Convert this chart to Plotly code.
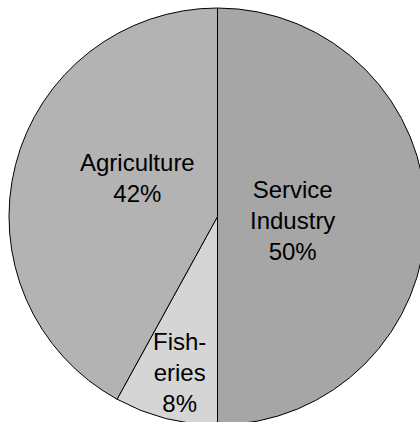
import plotly.graph_objects as go

# Sector shares of employment
labels = ["Service Industry", "Fisheries", "Agriculture"]
shares = [50, 8, 42]
display_names = ["Service<br>Industry", "Fish-<br>eries", "Agriculture"]
slice_colors = ["#a6a6a6", "#d5d5d5", "#b3b3b3"]

# Label anchors as offsets from the pie centre, in units of the radius
# (x to the right, y downward)
label_offsets = [(0.362, 0.017), (-0.18, 0.746), (-0.386, -0.187)]

fig = go.Figure(
    go.Pie(
        labels=labels,
        values=shares,
        sort=False,
        direction="clockwise",
        rotation=0,
        marker=dict(colors=slice_colors, line=dict(color="#000000", width=1)),
        textinfo="none",
        hoverinfo="label+percent",
        showlegend=False,
    )
)

total = sum(shares)
for name, val, (fx, fy) in zip(display_names, shares, label_offsets):
    pct = round(100 * val / total)
    fig.add_annotation(
        x=0.5 + 0.5 * fx,
        y=0.5 - 0.5 * fy,
        xref="paper",
        yref="paper",
        text=f"{name}<br>{pct}%",
        showarrow=False,
        align="center",
        xanchor="center",
        yanchor="middle",
        font=dict(family="Arial, Liberation Sans, sans-serif", size=24, color="#000000"),
    )

fig.update_layout(
    width=430,
    height=430,
    margin=dict(l=9, r=4, t=8, b=5),
    paper_bgcolor="#ffffff",
    plot_bgcolor="#ffffff",
)

fig.write_html("out.html")
